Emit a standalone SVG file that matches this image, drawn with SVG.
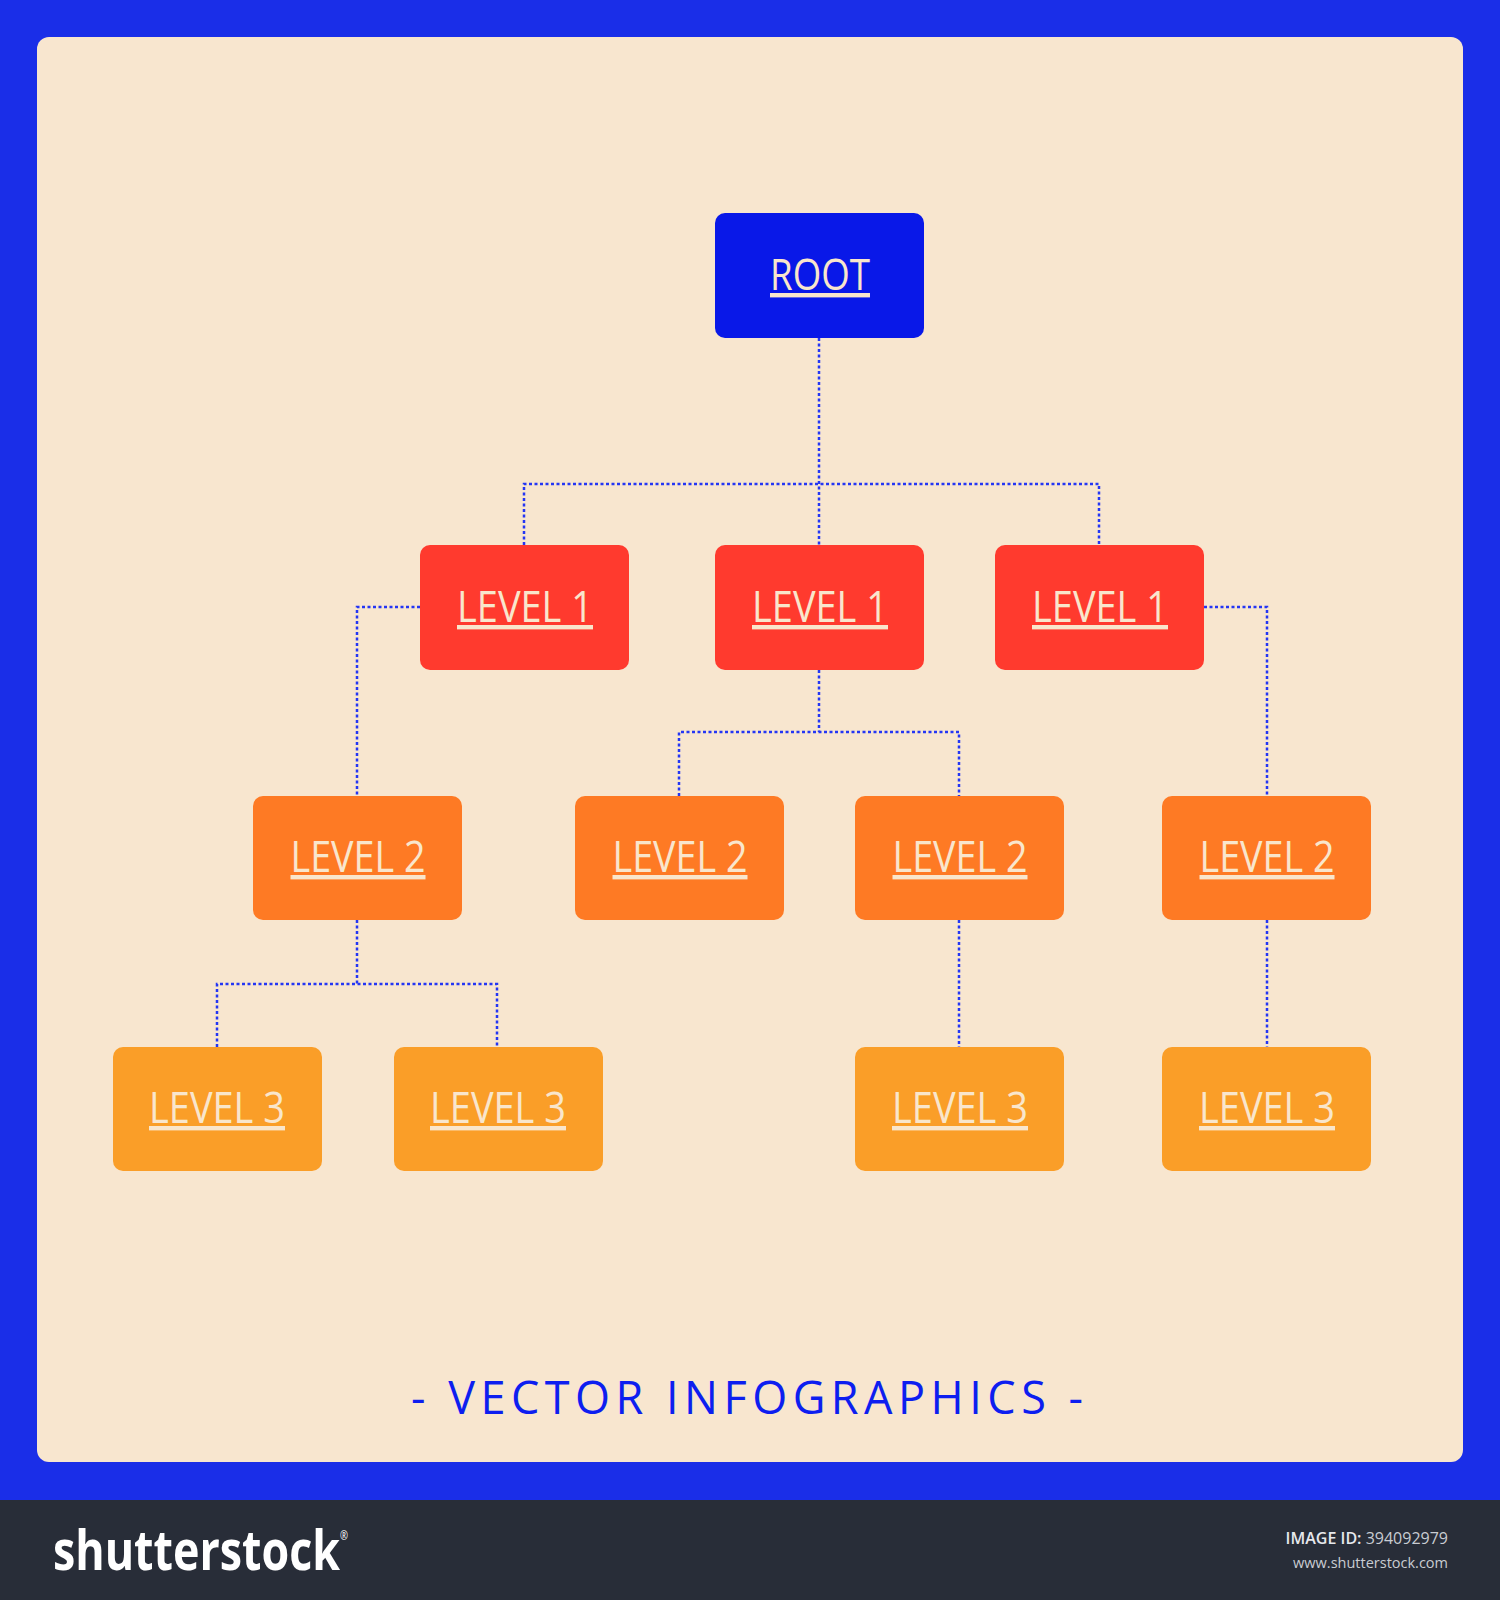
<svg xmlns="http://www.w3.org/2000/svg" width="1500" height="1600" viewBox="0 0 1500 1600">
  <defs>
    <style>
      .box { stroke: none; }
      .root { fill: #0918e8; }
      .l1 { fill: #ff3a2e; }
      .l2 { fill: #fe7a24; }
      .l3 { fill: #fa9e28; }
      .lbl { font-family: "Open Sans", "Noto Sans", "Liberation Sans", sans-serif; font-size: 44px; fill: #f9e6cc; text-anchor: middle; text-decoration: underline; }
      .conn { fill: none; stroke: #2436f4; stroke-width: 2.5; stroke-dasharray: 3 2.5; }
      .title { font-family: "Open Sans", "Noto Sans", "Liberation Sans", sans-serif; font-size: 45px; fill: #0d1ef0; }
    </style>
  </defs>

  <!-- background -->
  <rect x="0" y="0" width="1500" height="1500" fill="#1a2ee8"/>
  <rect x="37" y="37" width="1426" height="1425" rx="12" ry="12" fill="#f8e6cf"/>
  <rect x="0" y="1500" width="1500" height="100" fill="#282d38"/>

  <!-- connectors -->
  <g id="connectors">
    <path class="conn" d="M819 338 V545"/>
    <path class="conn" d="M524 545 V484 H1099 V545"/>
    <path class="conn" d="M420 607 H357 V796"/>
    <path class="conn" d="M819 670 V732"/>
    <path class="conn" d="M679 796 V732 H959 V796"/>
    <path class="conn" d="M1204 607 H1267 V796"/>
    <path class="conn" d="M357 920 V984"/>
    <path class="conn" d="M217 1047 V984 H497 V1047"/>
    <path class="conn" d="M959 920 V1047"/>
    <path class="conn" d="M1267 920 V1047"/>
  </g>

  <!-- nodes -->
  <g id="root">
    <rect class="box root" x="715" y="213" width="209" height="125" rx="10"/>
    <text class="lbl" x="820" y="290" font-size="42" textLength="100" lengthAdjust="spacingAndGlyphs">ROOT</text>
  </g>

  <g id="l1a">
    <rect class="box l1" x="420" y="545" width="209" height="125" rx="10"/>
    <text class="lbl" x="525" y="622" textLength="136" lengthAdjust="spacingAndGlyphs">LEVEL 1</text>
  </g>
  <g id="l1b">
    <rect class="box l1" x="715" y="545" width="209" height="125" rx="10"/>
    <text class="lbl" x="820" y="622" textLength="136" lengthAdjust="spacingAndGlyphs">LEVEL 1</text>
  </g>
  <g id="l1c">
    <rect class="box l1" x="995" y="545" width="209" height="125" rx="10"/>
    <text class="lbl" x="1100" y="622" textLength="136" lengthAdjust="spacingAndGlyphs">LEVEL 1</text>
  </g>

  <g id="l2a">
    <rect class="box l2" x="253" y="796" width="209" height="124" rx="10"/>
    <text class="lbl" x="358" y="872" textLength="135" lengthAdjust="spacingAndGlyphs">LEVEL 2</text>
  </g>
  <g id="l2b">
    <rect class="box l2" x="575" y="796" width="209" height="124" rx="10"/>
    <text class="lbl" x="680" y="872" textLength="135" lengthAdjust="spacingAndGlyphs">LEVEL 2</text>
  </g>
  <g id="l2c">
    <rect class="box l2" x="855" y="796" width="209" height="124" rx="10"/>
    <text class="lbl" x="960" y="872" textLength="135" lengthAdjust="spacingAndGlyphs">LEVEL 2</text>
  </g>
  <g id="l2d">
    <rect class="box l2" x="1162" y="796" width="209" height="124" rx="10"/>
    <text class="lbl" x="1267" y="872" textLength="135" lengthAdjust="spacingAndGlyphs">LEVEL 2</text>
  </g>

  <g id="l3a">
    <rect class="box l3" x="113" y="1047" width="209" height="124" rx="10"/>
    <text class="lbl" x="217" y="1123" textLength="136" lengthAdjust="spacingAndGlyphs">LEVEL 3</text>
  </g>
  <g id="l3b">
    <rect class="box l3" x="394" y="1047" width="209" height="124" rx="10"/>
    <text class="lbl" x="498" y="1123" textLength="136" lengthAdjust="spacingAndGlyphs">LEVEL 3</text>
  </g>
  <g id="l3c">
    <rect class="box l3" x="855" y="1047" width="209" height="124" rx="10"/>
    <text class="lbl" x="960" y="1123" textLength="136" lengthAdjust="spacingAndGlyphs">LEVEL 3</text>
  </g>
  <g id="l3d">
    <rect class="box l3" x="1162" y="1047" width="209" height="124" rx="10"/>
    <text class="lbl" x="1267" y="1123" textLength="136" lengthAdjust="spacingAndGlyphs">LEVEL 3</text>
  </g>

  <!-- title -->
  <text class="title" x="411" y="1414" textLength="672" lengthAdjust="spacing">- VECTOR INFOGRAPHICS -</text>

  <!-- footer -->
  <g id="footer">
    <text x="53" y="1570" font-family="'Open Sans', 'Liberation Sans', sans-serif" font-weight="700" font-size="56" fill="#ffffff" textLength="295" lengthAdjust="spacingAndGlyphs">shutterstock<tspan font-size="12" font-weight="400" dy="-30">®</tspan></text>
    <text x="1448" y="1544" text-anchor="end" font-family="'Open Sans', 'Liberation Sans', sans-serif" font-size="16" fill="#e6e8ec"><tspan font-weight="600">IMAGE ID:</tspan> <tspan fill="#c9ccd2">394092979</tspan></text>
    <text x="1448" y="1568" text-anchor="end" font-family="'Open Sans', 'Liberation Sans', sans-serif" font-size="14.5" fill="#c9ccd2">www.shutterstock.com</text>
  </g>
</svg>
